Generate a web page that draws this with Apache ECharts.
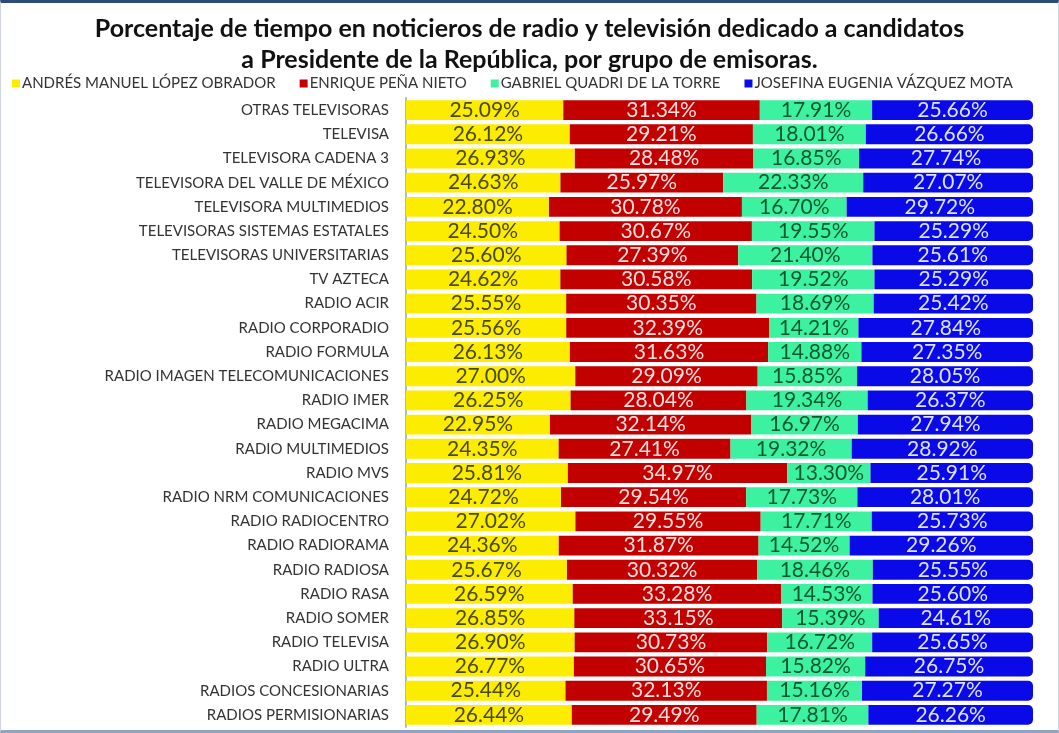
<!DOCTYPE html>
<html lang="es" style="height: 100%">
<head>
  <meta charset="utf-8">
</head>
<body style="height: 100%; margin: 0; background: #fff">
  <div id="container" style="position: absolute; left: 0; top: 0; width: 1057px; height: 727px; border-top: 3px solid #2c4b78; border-bottom: 3px solid #8fa3c2; border-left: 1px solid #d0d4dc; border-right: 1px solid #d0d4dc"></div>

  <script type="text/javascript" src="https://cdn.jsdelivr.net/npm/echarts@6/dist/echarts.min.js"></script>

  <script type="text/javascript">
    var dom = document.getElementById('container');
    var myChart = echarts.init(dom, null, { renderer: 'canvas' });

    const emisoras = [
      'OTRAS TELEVISORAS', 'TELEVISA', 'TELEVISORA CADENA 3', 'TELEVISORA DEL VALLE DE MÉXICO',
      'TELEVISORA MULTIMEDIOS', 'TELEVISORAS SISTEMAS ESTATALES', 'TELEVISORAS UNIVERSITARIAS',
      'TV AZTECA', 'RADIO ACIR', 'RADIO CORPORADIO', 'RADIO FORMULA', 'RADIO IMAGEN TELECOMUNICACIONES',
      'RADIO IMER', 'RADIO MEGACIMA', 'RADIO MULTIMEDIOS', 'RADIO MVS', 'RADIO NRM COMUNICACIONES',
      'RADIO RADIOCENTRO', 'RADIO RADIORAMA', 'RADIO RADIOSA', 'RADIO RASA', 'RADIO SOMER',
      'RADIO TELEVISA', 'RADIO ULTRA', 'RADIOS CONCESIONARIAS', 'RADIOS PERMISIONARIAS'
    ];
    const amlo = [25.09, 26.12, 26.93, 24.63, 22.80, 24.50, 25.60, 24.62, 25.55, 25.56, 26.13, 27.00, 26.25,
      22.95, 24.35, 25.81, 24.72, 27.02, 24.36, 25.67, 26.59, 26.85, 26.90, 26.77, 25.44, 26.44];
    const epn = [31.34, 29.21, 28.48, 25.97, 30.78, 30.67, 27.39, 30.58, 30.35, 32.39, 31.63, 29.09, 28.04,
      32.14, 27.41, 34.97, 29.54, 29.55, 31.87, 30.32, 33.28, 33.15, 30.73, 30.65, 32.13, 29.49];
    const quadri = [17.91, 18.01, 16.85, 22.33, 16.70, 19.55, 21.40, 19.52, 18.69, 14.21, 14.88, 15.85, 19.34,
      16.97, 19.32, 13.30, 17.73, 17.71, 14.52, 18.46, 14.53, 15.39, 16.72, 15.82, 15.16, 17.81];
    const jvm = [25.66, 26.66, 27.74, 27.07, 29.72, 25.29, 25.61, 25.29, 25.42, 27.84, 27.35, 28.05, 26.37,
      27.94, 28.92, 25.91, 28.01, 25.73, 29.26, 25.55, 25.60, 24.61, 25.65, 26.75, 27.27, 26.26];
    const candidatos = [
      'ANDRÉS MANUEL LÓPEZ OBRADOR', 'ENRIQUE PEÑA NIETO',
      'GABRIEL QUADRI DE LA TORRE', 'JOSEFINA EUGENIA VÁZQUEZ MOTA'
    ];

    const fillColors = ['#fcec00', '#c20000', '#3cf2a0', '#0a0ae8'];
    const textColors = ['#4a4a08', '#ffdede', '#0e5a30', '#dde2ff'];
    const valores = [amlo, epn, quadri, jvm];

    function serie(i) {
      return {
        name: candidatos[i],
        type: 'bar',
        stack: 'total',
        barCategoryGap: '18%',
        data: valores[i],
        itemStyle: {
          color: fillColors[i],
          borderRadius: i === 3 ? [0, 5, 5, 0] : 0
        },
        label: {
          show: true,
          position: 'inside',
          color: textColors[i],
          fontFamily: 'Lato',
          fontSize: 21,
          formatter: function (p) { return p.value.toFixed(2) + '%'; }
        }
      };
    }

    var option = {
      animation: false,
      title: {
        text: 'Porcentaje de tiempo en noticieros de radio y televisión dedicado a candidatos\na Presidente de la República, por grupo de emisoras.',
        left: 'center',
        top: 5,
        textStyle: {
          fontFamily: 'Lato',
          fontWeight: 'bold',
          fontSize: 25,
          lineHeight: 31,
          color: '#111'
        }
      },
      legend: {
        top: 68,
        left: 6,
        itemWidth: 8,
        itemHeight: 8,
        itemGap: 24,
        icon: 'rect',
        textStyle: { fontFamily: 'Lato', fontSize: 15, color: '#333', padding: [0, 0, 0, -3] },
        data: candidatos
      },
      grid: {
        left: 405,
        right: 25,
        top: 95,
        bottom: 3
      },
      xAxis: {
        type: 'value',
        min: 0,
        max: 100,
        show: false
      },
      yAxis: {
        type: 'category',
        inverse: true,
        data: emisoras,
        offset: 4,
        axisLine: { show: true, lineStyle: { color: '#aeb8c8', width: 2 } },
        axisTick: { show: false },
        axisLabel: {
          margin: 13,
          fontFamily: 'Lato',
          fontSize: 15,
          color: '#333'
        }
      },
      series: [serie(0), serie(1), serie(2), serie(3)]
    };

    myChart.setOption(option);
    window.addEventListener('resize', myChart.resize);
  </script>
</body>
</html>
